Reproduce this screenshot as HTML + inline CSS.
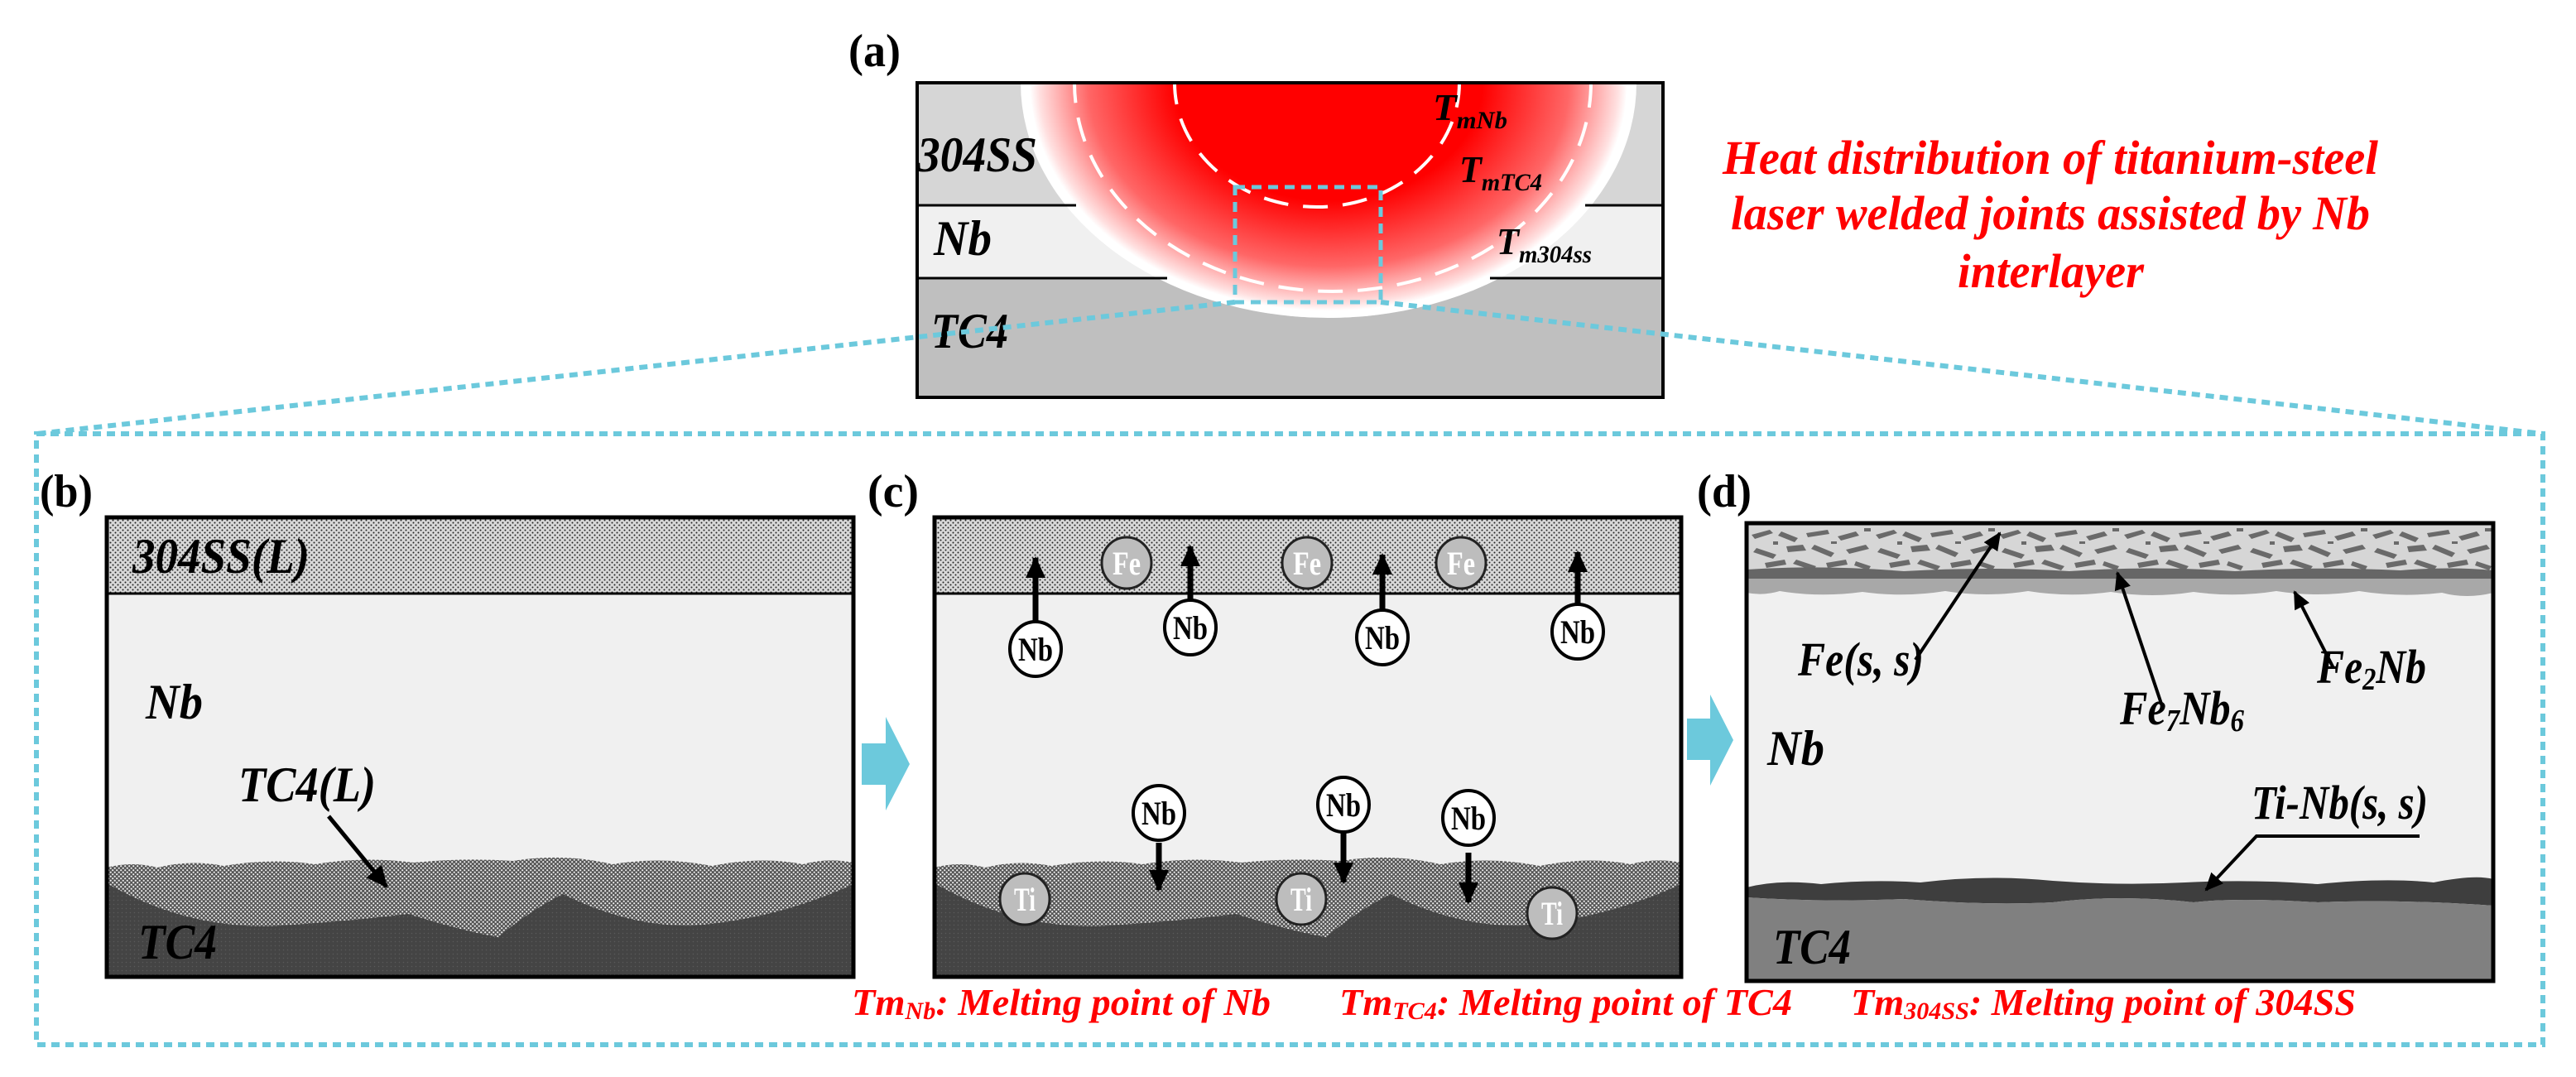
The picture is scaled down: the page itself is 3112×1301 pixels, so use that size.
<!DOCTYPE html>
<html><head><meta charset="utf-8"><style>
html,body{margin:0;padding:0;background:#fff;}
svg{display:block;}
.lb{font-family:"Liberation Serif",serif;font-weight:bold;font-style:italic;fill:#000;}
.rd{font-family:"Liberation Serif",serif;font-weight:bold;font-style:italic;fill:#ff0000;}
.ci{font-family:"Liberation Serif",serif;font-weight:bold;font-size:40px;}
</style></head><body>
<svg width="3112" height="1301" viewBox="0 0 3112 1301" xmlns="http://www.w3.org/2000/svg">
<defs>
  <pattern id="dotL" width="6" height="6" patternUnits="userSpaceOnUse">
    <rect width="6" height="6" fill="#d8d8d8"/><circle cx="1.5" cy="1.5" r="1" fill="#222"/><circle cx="4.5" cy="4.5" r="1" fill="#222"/>
  </pattern>
  <pattern id="dotM" width="5" height="5" patternUnits="userSpaceOnUse">
    <rect width="5" height="5" fill="#555"/><circle cx="1.2" cy="1.2" r="1.1" fill="#eee"/><circle cx="3.7" cy="3.7" r="1.1" fill="#eee"/>
  </pattern>
  <pattern id="dotD" width="5" height="5" patternUnits="userSpaceOnUse">
    <rect width="5" height="5" fill="#444"/><circle cx="2.5" cy="2.5" r="0.8" fill="#5a5a5a"/>
  </pattern>
  <pattern id="flake" width="150" height="56" patternUnits="userSpaceOnUse" x="2112" y="636">
    <rect width="150" height="56" fill="#d6d6d6"/>
    <g fill="#6a6a6a">
      <polygon points="4,10 26,4 30,8 8,15"/>
      <polygon points="40,6 60,14 56,19 36,11"/>
      <polygon points="70,8 96,4 98,9 72,13"/>
      <polygon points="108,12 130,6 134,11 112,17"/>
      <polygon points="10,26 34,34 30,39 6,31"/>
      <polygon points="46,24 66,22 70,29 48,31"/>
      <polygon points="80,22 104,32 100,37 76,27"/>
      <polygon points="118,28 142,22 146,27 122,33"/>
      <polygon points="20,44 44,40 46,46 22,50"/>
      <polygon points="58,40 82,48 78,53 54,45"/>
      <polygon points="94,44 118,40 120,46 96,50"/>
      <polygon points="130,42 148,48 145,53 128,47"/>
      <rect x="140" y="2" width="8" height="4"/>
      <rect x="30" y="18" width="6" height="4"/>
      <rect x="100" y="18" width="7" height="3"/>
    </g>
  </pattern>
  <radialGradient id="heat" cx="0.5" cy="0.5" r="0.5">
    <stop offset="0" stop-color="#ff0000"/>
    <stop offset="0.5" stop-color="#ff0000"/>
    <stop offset="0.78" stop-color="#ff6666"/>
    <stop offset="0.94" stop-color="#ffe0e0"/>
    <stop offset="0.97" stop-color="#ffffff"/>
    <stop offset="1" stop-color="#ffffff"/>
  </radialGradient>
  <clipPath id="clipA"><rect x="1108" y="100" width="901" height="380"/></clipPath>
  <marker id="ah" markerWidth="26" markerHeight="24" refX="24" refY="12" orient="auto" markerUnits="userSpaceOnUse">
    <path d="M0,0 L26,12 L0,24 Z" fill="#000"/>
  </marker>
  <marker id="ahs" markerWidth="22" markerHeight="20" refX="20" refY="10" orient="auto" markerUnits="userSpaceOnUse">
    <path d="M0,0 L22,10 L0,20 Z" fill="#000"/>
  </marker>
</defs>

<!-- (a) -->
<text x="1025" y="80" font-family="Liberation Serif" font-weight="bold" font-size="56" textLength="63" lengthAdjust="spacingAndGlyphs">(a)</text>
<rect x="1108" y="100" width="901" height="148" fill="#d6d6d6"/>
<rect x="1108" y="248" width="901" height="88" fill="#f0f0f0"/>
<rect x="1108" y="336" width="901" height="144" fill="#bfbfbf"/>
<g clip-path="url(#clipA)">
  <ellipse cx="1605" cy="100" rx="372" ry="284" fill="url(#heat)"/>
  <g fill="none" stroke="#fff" stroke-width="4" stroke-dasharray="30 18">
    <ellipse cx="1591" cy="100" rx="172" ry="150"/>
    <ellipse cx="1610" cy="100" rx="312" ry="252"/>
    <ellipse cx="1605" cy="100" rx="362" ry="282"/>
  </g>
</g>
<line x1="1108" y1="248" x2="1300" y2="248" stroke="#000" stroke-width="3"/>
<line x1="1915" y1="248" x2="2009" y2="248" stroke="#000" stroke-width="3"/>
<line x1="1108" y1="336" x2="1410" y2="336" stroke="#000" stroke-width="3"/>
<line x1="1800" y1="336" x2="2009" y2="336" stroke="#000" stroke-width="3"/>
<rect x="1108" y="100" width="901" height="380" fill="none" stroke="#000" stroke-width="4"/>
<text class="lb" x="1108" y="207" font-size="60" textLength="145" lengthAdjust="spacingAndGlyphs">304SS</text>
<text class="lb" x="1128" y="308" font-size="60" textLength="70" lengthAdjust="spacingAndGlyphs">Nb</text>
<text class="lb" x="1125" y="420" font-size="60" textLength="93" lengthAdjust="spacingAndGlyphs">TC4</text>
<text class="lb" x="1731" y="145" font-size="46" textLength="90" lengthAdjust="spacingAndGlyphs">T<tspan font-size="30" dy="10">mNb</tspan></text>
<text class="lb" x="1763" y="220" font-size="46" textLength="100" lengthAdjust="spacingAndGlyphs">T<tspan font-size="30" dy="10">mTC4</tspan></text>
<text class="lb" x="1808" y="307" font-size="46" textLength="115" lengthAdjust="spacingAndGlyphs">T<tspan font-size="30" dy="10">m304ss</tspan></text>
<rect x="1492" y="226" width="176" height="139" fill="none" stroke="#6cc9dc" stroke-width="5" stroke-dasharray="12 8"/>

<!-- title -->
<text class="rd" x="2081" y="210" font-size="58" textLength="792" lengthAdjust="spacingAndGlyphs">Heat distribution of titanium-steel</text>
<text class="rd" x="2091" y="277" font-size="58" textLength="772" lengthAdjust="spacingAndGlyphs">laser welded joints assisted by Nb</text>
<text class="rd" x="2365" y="347" font-size="58" textLength="225" lengthAdjust="spacingAndGlyphs">interlayer</text>

<!-- big dashed box & connectors -->
<g fill="none" stroke="#6cc9dc" stroke-width="6" stroke-dasharray="10 7">
  <line x1="1492" y1="365" x2="44" y2="524"/>
  <line x1="1668" y1="365" x2="3072" y2="524"/>
  <rect x="44" y="524" width="3028" height="738"/>
</g>

<!-- (b) -->
<text x="48" y="612" font-family="Liberation Serif" font-weight="bold" font-size="56" textLength="64" lengthAdjust="spacingAndGlyphs">(b)</text>
<g id="panelB">
<rect x="129" y="625" width="902" height="555" fill="#f0f0f0"/>
<rect x="129" y="625" width="902" height="92" fill="url(#dotL)"/>
<path d="M129,1048 Q160,1040 190,1048 Q230,1038 270,1046 Q330,1036 380,1044 Q440,1034 500,1042 Q560,1036 620,1040 Q680,1030 740,1044 Q800,1034 860,1046 Q920,1034 970,1044 Q1000,1036 1031,1042 L1031,1180 L129,1180 Z" fill="url(#dotM)"/>
<path d="M129,1067 Q230,1125 340,1118 Q430,1112 493,1104 Q560,1125 602,1132 Q640,1100 680,1080 Q760,1120 838,1118 Q940,1110 1031,1068 L1031,1180 L129,1180 Z" fill="url(#dotD)"/>
<line x1="129" y1="717" x2="1031" y2="717" stroke="#000" stroke-width="3"/>
<rect x="129" y="625" width="902" height="555" fill="none" stroke="#000" stroke-width="5"/>
</g>
<text class="lb" x="160" y="692" font-size="60" textLength="214" lengthAdjust="spacingAndGlyphs">304SS(L)</text>
<text class="lb" x="176" y="868" font-size="60" textLength="69" lengthAdjust="spacingAndGlyphs">Nb</text>
<text class="lb" x="288" y="968" font-size="60" textLength="166" lengthAdjust="spacingAndGlyphs">TC4(L)</text>
<line x1="397" y1="986" x2="467" y2="1071" stroke="#000" stroke-width="5" marker-end="url(#ah)"/>
<text class="lb" x="167" y="1158" font-size="60" textLength="95" lengthAdjust="spacingAndGlyphs">TC4</text>

<!-- cyan arrows -->
<polygon points="1041,898 1070,898 1070,866 1099,923 1070,979 1070,948 1041,948" fill="#6cc9dc"/>
<polygon points="2038,868 2066,868 2066,839 2094,894 2066,949 2066,918 2038,918" fill="#6cc9dc"/>

<!-- (c) -->
<text x="1048" y="612" font-family="Liberation Serif" font-weight="bold" font-size="56" textLength="62" lengthAdjust="spacingAndGlyphs">(c)</text>
<use href="#panelB" transform="translate(1000,0)"/>
<g stroke="#000" stroke-width="7">
  <line x1="1251" y1="752" x2="1251" y2="674" marker-end="url(#ah)"/>
  <line x1="1438" y1="726" x2="1438" y2="660" marker-end="url(#ah)"/>
  <line x1="1670" y1="738" x2="1670" y2="670" marker-end="url(#ah)"/>
  <line x1="1906" y1="731" x2="1906" y2="667" marker-end="url(#ah)"/>
  <line x1="1400" y1="1018" x2="1400" y2="1075" marker-end="url(#ah)"/>
  <line x1="1623" y1="1005" x2="1623" y2="1066" marker-end="url(#ah)"/>
  <line x1="1774" y1="1030" x2="1774" y2="1090" marker-end="url(#ah)"/>
</g>
<g stroke="#222" stroke-width="3" fill="#bdbdbd">
  <ellipse cx="1361" cy="680" rx="30" ry="31"/>
  <ellipse cx="1579" cy="680" rx="30" ry="31"/>
  <ellipse cx="1765" cy="680" rx="30" ry="31"/>
  <ellipse cx="1238" cy="1086" rx="30" ry="31"/>
  <ellipse cx="1572" cy="1086" rx="30" ry="31"/>
  <ellipse cx="1875" cy="1103" rx="30" ry="31"/>
</g>
<g class="ci" fill="#fff">
  <text x="1344" y="694" textLength="34" lengthAdjust="spacingAndGlyphs">Fe</text><text x="1562" y="694" textLength="34" lengthAdjust="spacingAndGlyphs">Fe</text><text x="1748" y="694" textLength="34" lengthAdjust="spacingAndGlyphs">Fe</text>
  <text x="1225" y="1100" textLength="26" lengthAdjust="spacingAndGlyphs">Ti</text><text x="1559" y="1100" textLength="26" lengthAdjust="spacingAndGlyphs">Ti</text><text x="1862" y="1117" textLength="26" lengthAdjust="spacingAndGlyphs">Ti</text>
</g>
<g stroke="#000" stroke-width="4" fill="#fff">
  <ellipse cx="1251" cy="784" rx="31" ry="33"/>
  <ellipse cx="1438" cy="758" rx="31" ry="33"/>
  <ellipse cx="1670" cy="770" rx="31" ry="33"/>
  <ellipse cx="1906" cy="763" rx="31" ry="33"/>
  <ellipse cx="1400" cy="982" rx="31" ry="33"/>
  <ellipse cx="1623" cy="972" rx="31" ry="33"/>
  <ellipse cx="1774" cy="988" rx="31" ry="33"/>
</g>
<g class="ci" fill="#000">
  <text x="1230" y="798" textLength="42" lengthAdjust="spacingAndGlyphs">Nb</text><text x="1417" y="772" textLength="42" lengthAdjust="spacingAndGlyphs">Nb</text><text x="1649" y="784" textLength="42" lengthAdjust="spacingAndGlyphs">Nb</text><text x="1885" y="777" textLength="42" lengthAdjust="spacingAndGlyphs">Nb</text>
  <text x="1379" y="996" textLength="42" lengthAdjust="spacingAndGlyphs">Nb</text><text x="1602" y="986" textLength="42" lengthAdjust="spacingAndGlyphs">Nb</text><text x="1753" y="1002" textLength="42" lengthAdjust="spacingAndGlyphs">Nb</text>
</g>

<!-- (d) -->
<text x="2050" y="612" font-family="Liberation Serif" font-weight="bold" font-size="56" textLength="66" lengthAdjust="spacingAndGlyphs">(d)</text>
<rect x="2110" y="632" width="902" height="553" fill="#f0f0f0"/>
<path d="M2110,697 L3012,697 L3012,716 Q2980,724 2950,716 Q2900,722 2850,714 Q2800,722 2750,714 Q2700,722 2650,715 Q2600,723 2550,715 Q2500,722 2450,714 Q2400,722 2350,714 Q2300,722 2250,715 Q2200,722 2150,714 Q2130,720 2110,716 Z" fill="#a8a8a8"/>
<rect x="2110" y="632" width="902" height="58" fill="url(#flake)"/>
<path d="M2110,688 Q2200,682 2300,690 Q2400,684 2500,690 Q2600,683 2700,690 Q2800,684 2900,689 Q2960,684 3012,689 L3012,699 L2110,699 Z" fill="#666"/>
<path d="M2110,1072 Q2150,1062 2200,1068 Q2260,1062 2320,1066 Q2400,1056 2480,1064 Q2560,1070 2640,1066 Q2720,1062 2800,1068 Q2880,1060 2940,1066 Q2990,1056 3012,1062 L3012,1094 Q2900,1086 2800,1090 Q2700,1084 2650,1090 Q2560,1080 2480,1090 Q2400,1094 2300,1086 Q2200,1090 2110,1084 Z" fill="#3e3e3e"/>
<path d="M2110,1084 Q2200,1090 2300,1086 Q2400,1094 2480,1090 Q2560,1080 2650,1090 Q2700,1084 2800,1090 Q2900,1086 3012,1094 L3012,1185 L2110,1185 Z" fill="#808080"/>
<rect x="2110" y="632" width="902" height="553" fill="none" stroke="#000" stroke-width="5"/>
<g stroke="#000" stroke-width="4">
  <line x1="2314" y1="797" x2="2416" y2="644" marker-end="url(#ahs)"/>
  <line x1="2611" y1="850" x2="2558" y2="692" marker-end="url(#ahs)"/>
  <line x1="2819" y1="807" x2="2772" y2="715" marker-end="url(#ahs)"/>
  <polyline points="2923,1010 2726,1010 2665,1075" fill="none" marker-end="url(#ahs)"/>
</g>
<text class="lb" x="2172" y="816" font-size="58" textLength="152" lengthAdjust="spacingAndGlyphs">Fe(s, s)</text>
<text class="lb" x="2561" y="875" font-size="58" textLength="150" lengthAdjust="spacingAndGlyphs">Fe<tspan font-size="38" dy="8">7</tspan><tspan dy="-8">Nb</tspan><tspan font-size="38" dy="8">6</tspan></text>
<text class="lb" x="2799" y="825" font-size="58" textLength="132" lengthAdjust="spacingAndGlyphs">Fe<tspan font-size="38" dy="8">2</tspan><tspan dy="-8">Nb</tspan></text>
<text class="lb" x="2135" y="924" font-size="60" textLength="69" lengthAdjust="spacingAndGlyphs">Nb</text>
<text class="lb" x="2720" y="989" font-size="58" textLength="213" lengthAdjust="spacingAndGlyphs">Ti-Nb(s, s)</text>
<text class="lb" x="2142" y="1164" font-size="60" textLength="94" lengthAdjust="spacingAndGlyphs">TC4</text>

<!-- legend -->
<text class="rd" x="1029" y="1226" font-size="46" textLength="506" lengthAdjust="spacingAndGlyphs">Tm<tspan font-size="30" dy="5">Nb</tspan><tspan dy="-5">:  Melting point of Nb</tspan></text>
<text class="rd" x="1618" y="1226" font-size="46" textLength="547" lengthAdjust="spacingAndGlyphs">Tm<tspan font-size="30" dy="5">TC4</tspan><tspan dy="-5">:  Melting point of TC4</tspan></text>
<text class="rd" x="2236" y="1226" font-size="46" textLength="610" lengthAdjust="spacingAndGlyphs">Tm<tspan font-size="30" dy="5">304SS</tspan><tspan dy="-5">:  Melting point of 304SS</tspan></text>
</svg>
</body></html>
